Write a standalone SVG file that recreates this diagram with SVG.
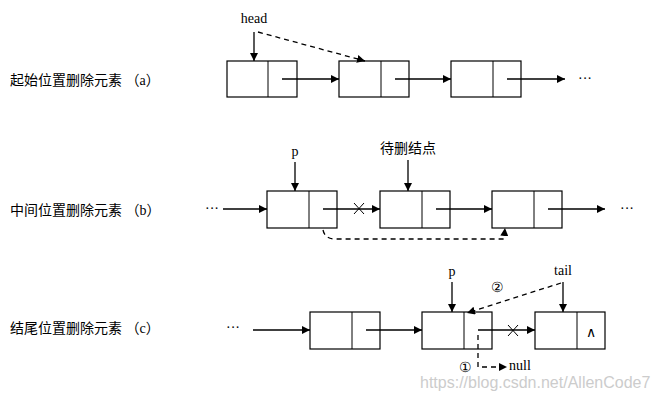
<svg xmlns="http://www.w3.org/2000/svg" width="660" height="400" viewBox="0 0 660 400">
<defs>
<marker id="ah" viewBox="0 0 10 10" refX="10" refY="5" markerWidth="7" markerHeight="7" orient="auto" markerUnits="userSpaceOnUse"><path d="M0,0L10,5L0,10z" fill="#000"/></marker>
<marker id="ahs" viewBox="0 0 10 10" refX="10" refY="5" markerWidth="8" markerHeight="8" orient="auto-start-reverse" markerUnits="userSpaceOnUse"><path d="M0,0L10,5L0,10z" fill="#000"/></marker>
<style>
.box{fill:#fff;stroke:#000;stroke-width:1.2}
.ln{stroke:#000;stroke-width:1.3;fill:none;marker-end:url(#ahs)}
.ds{stroke:#000;stroke-width:1.3;fill:none;stroke-dasharray:5,4;marker-end:url(#ahs)}
.t{font-family:"Liberation Serif",serif;font-size:14px;fill:#000}
.cn{font-family:"Liberation Serif","Noto Sans CJK SC",serif;font-size:14px;fill:#000}
</style>
</defs>
<rect width="660" height="400" fill="#fff"/>
<text class="cn" x="10" y="85">起始位置删除元素 （a）</text>
<text class="cn" x="10" y="215">中间位置删除元素 （b）</text>
<text class="cn" x="10" y="333">结尾位置删除元素 （c）</text>
<g id="a1"><rect class="box" x="227" y="61" width="70" height="36"/><line x1="268" y1="61" x2="268" y2="97" stroke="#000"/></g>
<g id="a2"><rect class="box" x="339" y="61" width="70" height="36"/><line x1="381" y1="61" x2="381" y2="97" stroke="#000"/></g>
<g id="a3"><rect class="box" x="451" y="61" width="70" height="36"/><line x1="493" y1="61" x2="493" y2="97" stroke="#000"/></g>
<g id="b1"><rect class="box" x="267" y="191" width="70" height="37"/><line x1="309" y1="191" x2="309" y2="228" stroke="#000"/></g>
<g id="b2"><rect class="box" x="380" y="191" width="70" height="37"/><line x1="422" y1="191" x2="422" y2="228" stroke="#000"/></g>
<g id="b3"><rect class="box" x="492" y="191" width="70" height="37"/><line x1="534" y1="191" x2="534" y2="228" stroke="#000"/></g>
<g id="c1"><rect class="box" x="310" y="312" width="70" height="37"/><line x1="352" y1="312" x2="352" y2="349" stroke="#000"/></g>
<g id="c2"><rect class="box" x="422" y="312" width="70" height="37"/><line x1="464" y1="312" x2="464" y2="349" stroke="#000"/></g>
<g id="c3"><rect class="box" x="535" y="312" width="70" height="37"/><line x1="577" y1="312" x2="577" y2="349" stroke="#000"/><text class="t" x="591" y="337" text-anchor="middle">∧</text></g>
<g id="labels">
<text class="t" x="254" y="23" text-anchor="middle">head</text>
<text class="t" x="585" y="83" text-anchor="middle">···</text>
<text class="t" x="295" y="156" text-anchor="middle">p</text>
<text class="cn" x="408" y="153" text-anchor="middle">待删结点</text>
<text class="t" x="212" y="213" text-anchor="middle">···</text>
<text class="t" x="627" y="213" text-anchor="middle">···</text>
<text class="t" x="233" y="332" text-anchor="middle">···</text>
<text class="t" x="452" y="276" text-anchor="middle">p</text>
<text class="t" x="563" y="275" text-anchor="middle">tail</text>
<text class="t" x="497" y="292" text-anchor="middle">②</text>
<text class="t" x="465" y="372" text-anchor="middle">①</text>
<text class="t" x="509" y="370">null</text>
<text x="420" y="388" font-family="Liberation Sans,sans-serif" font-size="16" fill="#ccc">https://blog.csdn.net/AllenCode7</text>
</g>
<g id="connectors">
<line class="ln" x1="282" y1="79" x2="339" y2="79"/>
<line class="ln" x1="395" y1="79" x2="451" y2="79"/>
<line class="ln" x1="507" y1="79" x2="565" y2="79"/>
<polyline class="ln" points="254,32 254,61"/>
<line class="ds" x1="258" y1="32" x2="365" y2="61"/>
<line class="ln" x1="223" y1="209" x2="267" y2="209"/>
<line class="ln" x1="323" y1="209" x2="380" y2="209"/>
<line class="ln" x1="436" y1="209" x2="492" y2="209"/>
<line class="ln" x1="548" y1="209" x2="605" y2="209"/>
<line class="ln" x1="295" y1="162" x2="295" y2="191"/>
<line class="ln" x1="408" y1="160" x2="408" y2="191"/>
<path d="M354,203l10,11M364,203l-10,11" stroke="#000" stroke-width="1"/>
<path class="ds" d="M323,230 Q325,239 335,239 L504,239 L505,228"/>
<line class="ln" x1="253" y1="330" x2="310" y2="330"/>
<line class="ln" x1="366" y1="330" x2="422" y2="330"/>
<line class="ln" x1="478" y1="330" x2="535" y2="330"/>
<path d="M508,325l10,11M518,325l-10,11" stroke="#000" stroke-width="1"/>
<line class="ln" x1="452" y1="282" x2="452" y2="312"/>
<line class="ln" x1="563" y1="282" x2="563" y2="312"/>
<line class="ds" x1="561" y1="283" x2="467" y2="313"/>
<polyline class="ds" points="478,335 478,367 507,367"/>
</g>
</svg>
